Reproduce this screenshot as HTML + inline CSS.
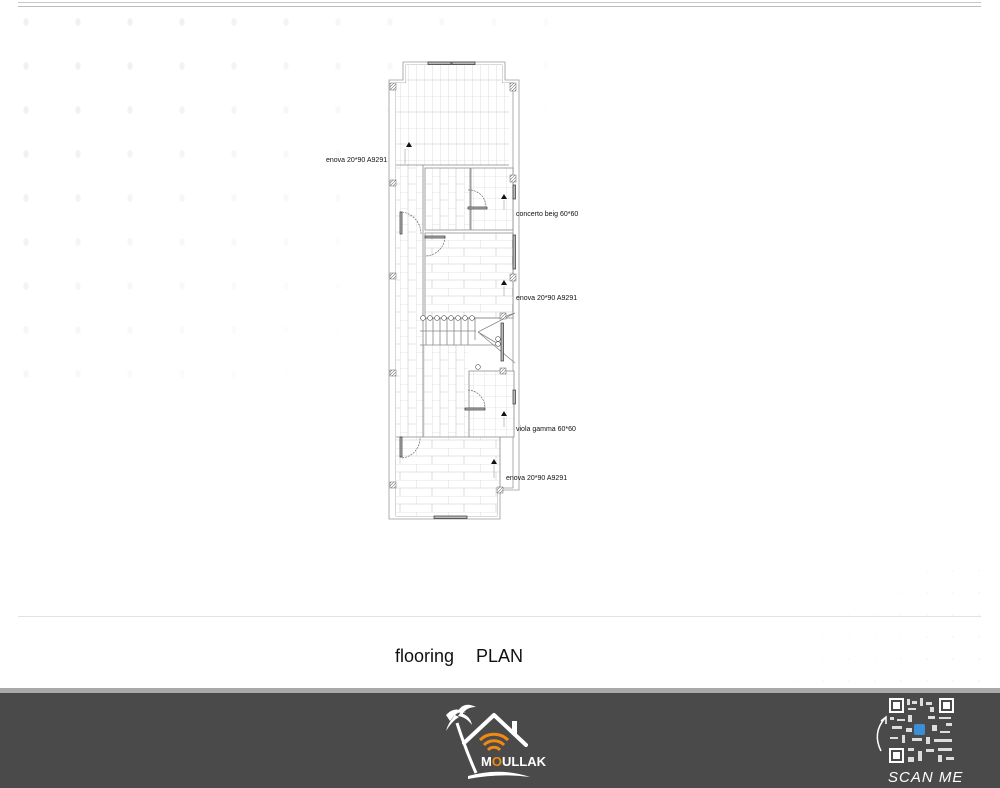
<!DOCTYPE html>
<html><head><meta charset="utf-8"><style>
html,body{margin:0;padding:0;background:#fff;}
body{width:1000px;height:788px;position:relative;overflow:hidden;font-family:"Liberation Sans",sans-serif;}
.dots{position:absolute;left:0;top:0;width:560px;height:380px;background-image:radial-gradient(ellipse 4px 6px,#f1f1f1 60%,transparent 70%);background-size:52px 44px;-webkit-mask-image:linear-gradient(135deg,#000 20%,transparent 75%);mask-image:linear-gradient(135deg,#000 20%,transparent 75%);}
.dots2{position:absolute;left:680px;top:560px;width:320px;height:130px;background-image:radial-gradient(circle 1.5px,#f3f3f3 60%,transparent 70%);background-size:26px 22px;-webkit-mask-image:linear-gradient(315deg,#000 10%,transparent 70%);mask-image:linear-gradient(315deg,#000 10%,transparent 70%);}
.topline{position:absolute;left:18px;top:2px;width:963px;height:3px;border-top:1px solid #c8c8c8;border-bottom:1px solid #bdbdbd;}
.sep{position:absolute;left:18px;top:616px;width:963px;height:1px;background:#e2e2e2;}
.title{position:absolute;left:395px;top:646px;font-size:18px;color:#111;word-spacing:17px;}
.band{position:absolute;left:0;top:688px;width:1000px;height:5px;background:#a9a9a9;}
.footer{position:absolute;left:0;top:693px;width:1000px;height:95px;background:#4a4a4a;}
.lbl{font-family:"Liberation Sans",sans-serif;font-size:7px;fill:#111;}
</style></head><body>
<div class="dots"></div><div class="dots2"></div>
<div class="topline"></div>
<svg width="1000" height="620" style="position:absolute;left:0;top:0">
<defs>
<pattern id="vp" width="8" height="32" patternUnits="userSpaceOnUse">
<rect width="8" height="32" fill="#fff"/>
<path d="M0 0V32M0 0H8M4 16H8" stroke="#c9c9c9" stroke-width=".6" fill="none"/>
<path d="M0 16H4" stroke="#c9c9c9" stroke-width=".6"/>
</pattern>
<pattern id="vp2" width="16" height="16" patternUnits="userSpaceOnUse">
<rect width="16" height="16" fill="#fff"/>
<path d="M0 0V16M8 0V16M0 0H8M8 8H16" stroke="#c9c9c9" stroke-width=".6" fill="none"/>
</pattern>
<pattern id="hp" width="32" height="16" patternUnits="userSpaceOnUse">
<rect width="32" height="16" fill="#fff"/>
<path d="M0 0H32M0 8H32M0 0V8M16 8V16" stroke="#c9c9c9" stroke-width=".6" fill="none"/>
</pattern>
<pattern id="sq" width="11" height="11" patternUnits="userSpaceOnUse">
<rect width="11" height="11" fill="#fff"/>
<path d="M0 0H11M0 0V11" stroke="#cfcfcf" stroke-width=".6" fill="none"/>
</pattern>
<pattern id="hat" width="3" height="3" patternUnits="userSpaceOnUse">
<rect width="3" height="3" fill="#fff"/><path d="M0 3L3 0" stroke="#777" stroke-width=".6"/>
</pattern>
</defs>
<g stroke="#9a9a9a" stroke-width=".8" fill="none">
<path d="M403 62H505V80H519V490H500V519H389V80H403Z" fill="#fff"/>
<path d="M406 65H502V83H513V488H497V516H396V83H406Z"/>
</g>
<rect x="406" y="65" width="96" height="100" fill="url(#vp)"/>
<rect x="396" y="83" width="113" height="82" fill="url(#vp)"/>
<rect x="396" y="165" width="27" height="272" fill="url(#vp2)"/>
<rect x="425" y="168" width="45" height="62" fill="url(#vp2)"/>
<rect x="471" y="168" width="42" height="62" fill="url(#sq)"/>
<rect x="425" y="233" width="88" height="85" fill="url(#hp)"/>
<rect x="423" y="345" width="45" height="92" fill="url(#vp2)"/>
<rect x="469" y="371" width="45" height="66" fill="url(#sq)"/>
<rect x="396" y="437" width="104" height="56" fill="url(#hp)"/>
<rect x="396" y="493" width="101" height="23" fill="url(#hp)"/>
<g stroke="#888" stroke-width=".8" fill="none">
<path d="M396 165H509M423 165V437M425 168H470V230H425ZM471 168H513V230H471ZM425 233H513V318H425ZM469 371H514V437H469ZM396 437H500V493"/>
<path d="M420 318H500M420 345H500M500 318L515 313M478 332L515 313M478 332L515 363M478 332L500 345"/>
<path d="M426 318V345M433 318V345M440 318V345M447 318V345M454 318V345M461 318V345M468 318V345M475 318V340"/>
<path d="M420 331H476"/>
</g>
<g fill="#fff" stroke="#555" stroke-width=".6">
<circle cx="423" cy="318" r="2.4"/><circle cx="430" cy="318" r="2.4"/><circle cx="437" cy="318" r="2.4"/><circle cx="444" cy="318" r="2.4"/><circle cx="451" cy="318" r="2.4"/><circle cx="458" cy="318" r="2.4"/><circle cx="465" cy="318" r="2.4"/><circle cx="472" cy="318" r="2.4"/>
<circle cx="498" cy="339" r="2.4"/><circle cx="498" cy="344" r="2.4"/><circle cx="478" cy="367" r="2.4"/>
</g>
<g fill="#bbb" stroke="#333" stroke-width=".7">
<rect x="428" y="62" width="23" height="2.5"/><rect x="452" y="62" width="23" height="2.5"/>
<rect x="513" y="185" width="2.5" height="14"/><rect x="513" y="235" width="2.5" height="34"/>
<rect x="501" y="323" width="2.5" height="38"/><rect x="513" y="390" width="2.5" height="14"/>
<rect x="434" y="516" width="33" height="2.5"/>
<rect x="400" y="212" width="2" height="22"/><rect x="425" y="236" width="20" height="2"/>
<rect x="468" y="207" width="19" height="2"/><rect x="465" y="408" width="20" height="2"/>
<rect x="400" y="437" width="2" height="20"/>
</g>
<g fill="url(#hat)" stroke="#666" stroke-width=".5">
<rect x="390" y="83" width="6" height="7"/><rect x="510" y="83" width="6" height="8"/>
<rect x="390" y="180" width="6" height="6"/><rect x="510" y="175" width="6" height="7"/>
<rect x="390" y="273" width="6" height="6"/><rect x="510" y="274" width="6" height="7"/>
<rect x="390" y="370" width="6" height="6"/><rect x="500" y="313" width="6" height="6"/>
<rect x="500" y="368" width="6" height="6"/><rect x="390" y="482" width="6" height="6"/>
<rect x="497" y="487" width="6" height="6"/>
</g>
<g stroke="#555" stroke-width=".6" fill="none" stroke-dasharray="2 1">
<path d="M402 212A22 22 0 0 1 421 234"/><path d="M445 237A20 20 0 0 1 425 256"/>
<path d="M468 190A17 17 0 0 1 486 207"/><path d="M468 390A18 18 0 0 1 485 408"/>
<path d="M402 458A20 20 0 0 0 420 437"/>
</g>
<g fill="#111">
<path d="M406 147L409 142L412 147Z"/><path d="M501 199L504 194L507 199Z"/>
<path d="M501 285L504 280L507 285Z"/><path d="M501 416L504 411L507 416Z"/>
<path d="M491 464L494 459L497 464Z"/>
</g>
<g stroke="#888" stroke-width=".5">
<path d="M405 164V149M504 210V200M504 296V286M504 427V417M494 478V465"/>
</g>
<text class="lbl" x="326" y="162">enova 20*90  A9291</text>
<text class="lbl" x="516" y="216">concerto beig 60*60</text>
<text class="lbl" x="516" y="300">enova 20*90  A9291</text>
<text class="lbl" x="516" y="431">viola gamma 60*60</text>
<text class="lbl" x="506" y="480">enova 20*90  A9291</text>
</svg>
<div class="sep"></div>
<div class="title">flooring PLAN</div>
<div class="band"></div>
<div class="footer"></div>
<svg width="1000" height="95" style="position:absolute;left:0;top:693px">
<g fill="none" stroke="#fff" stroke-width="4" stroke-linecap="round" stroke-linejoin="round">
<path d="M464 50L494 22L526 52"/>
</g>
<path d="M512 40V28H517V45" fill="#fff"/>
<path d="M457 30Q465 55 476 80" stroke="#fff" stroke-width="3" fill="none"/>
<path d="M446 22Q455 12 466 20Q458 16 450 28ZM458 18Q464 8 476 14Q466 14 462 22ZM455 22Q448 30 446 38Q452 28 459 24ZM460 20Q470 22 472 32Q466 24 458 23Z" fill="#fff"/>
<path d="M468 83Q500 74 530 84Q500 80 468 86Z" fill="#fff"/>
<g fill="none" stroke="#f08a12" stroke-width="3">
<path d="M484 52A14 14 0 0 1 504 52"/><path d="M488 57A8 8 0 0 1 500 57"/><path d="M480 47A20 20 0 0 1 508 47"/>
</g>
<text x="481" y="73" font-family="Liberation Sans" font-weight="bold" font-size="13" fill="#fff">M<tspan fill="#f08a12">O</tspan>ULLAK</text>
<g fill="#fff">
<rect x="889" y="5" width="15" height="15"/><rect x="891" y="7" width="11" height="11" fill="#4a4a4a"/><rect x="893" y="9" width="7" height="7"/>
<rect x="939" y="5" width="15" height="15"/><rect x="941" y="7" width="11" height="11" fill="#4a4a4a"/><rect x="943" y="9" width="7" height="7"/>
<rect x="889" y="55" width="15" height="15"/><rect x="891" y="57" width="11" height="11" fill="#4a4a4a"/><rect x="893" y="59" width="7" height="7"/>
</g>
<g fill="#ddd">
<rect x="907" y="6" width="3" height="6"/><rect x="912" y="8" width="5" height="3"/><rect x="920" y="5" width="3" height="8"/><rect x="926" y="9" width="6" height="3"/><rect x="908" y="15" width="8" height="2"/><rect x="930" y="14" width="4" height="5"/>
<rect x="890" y="24" width="4" height="3"/><rect x="897" y="26" width="8" height="2"/><rect x="908" y="22" width="4" height="7"/><rect x="928" y="23" width="7" height="3"/><rect x="939" y="24" width="12" height="2"/><rect x="946" y="30" width="6" height="3"/>
<rect x="892" y="33" width="10" height="3"/><rect x="906" y="35" width="6" height="4"/><rect x="932" y="32" width="5" height="6"/><rect x="940" y="38" width="10" height="2"/>
<rect x="890" y="44" width="8" height="2"/><rect x="902" y="42" width="3" height="8"/><rect x="912" y="45" width="10" height="3"/><rect x="926" y="44" width="4" height="7"/><rect x="934" y="46" width="18" height="3"/>
<rect x="908" y="55" width="6" height="3"/><rect x="918" y="58" width="4" height="10"/><rect x="926" y="56" width="8" height="3"/><rect x="938" y="55" width="14" height="3"/><rect x="938" y="62" width="4" height="7"/><rect x="946" y="64" width="8" height="3"/><rect x="908" y="64" width="6" height="5"/>
</g>
<rect x="914" y="31" width="11" height="11" rx="2" fill="#3a8fd6"/>
<path d="M881 58Q872 40 885 25" stroke="#fff" stroke-width="1.5" fill="none"/><path d="M881 28L886 24L886 31" stroke="#fff" stroke-width="1.5" fill="none"/>
<text x="888" y="89" font-family="Liberation Sans" font-style="italic" font-size="15" fill="#fff" letter-spacing="1">SCAN ME</text>
</svg>
</body></html>
